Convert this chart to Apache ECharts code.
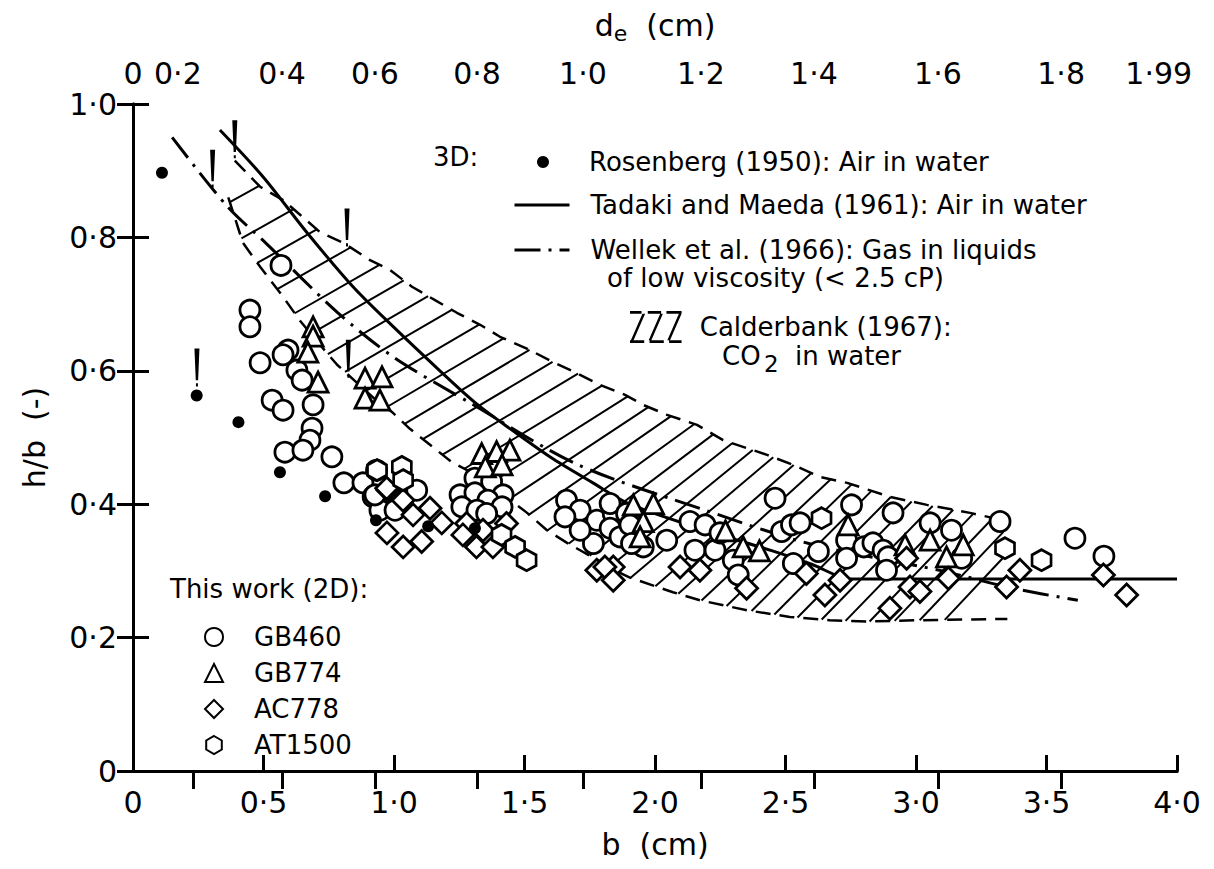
<!DOCTYPE html>
<html><head><meta charset="utf-8">
<script src="https://cdn.jsdelivr.net/npm/echarts@6/dist/echarts.min.js"></script>
<style>html,body{margin:0;padding:0;background:#fff}#c{width:1214px;height:869px}</style>
</head><body><div id="c"></div>
<script>
// ---------------- data (b in cm, h/b dimensionless) ----------------
const bTicks = [0, 0.5, 1, 1.5, 2, 2.5, 3, 3.5, 4];
const bTickLabels = ['0', '0·5', '1·0', '1·5', '2·0', '2·5', '3·0', '3·5', '4·0'];
const hbTickLabels = ['0', '0·2', '0·4', '0·6', '0·8', '1·0'];
const deTickB = [0.230, 0.571, 0.927, 1.318, 1.724, 2.176, 2.609, 3.084, 3.556];
const deLabelB = [0, 0.172, 0.571, 0.927, 1.318, 1.724, 2.176, 2.609, 3.084, 3.556, 3.93];
const deLabels = ['0', '0·2', '0·4', '0·6', '0·8', '1·0', '1·2', '1·4', '1·6', '1·8', '1·99'];

const rosenberg = [[0.111,0.897],[0.244,0.563],[0.404,0.523],[0.563,0.448],[0.736,0.412],[0.931,0.376],[1.131,0.367],[1.31,0.364]];

const gb460 = [[0.567,0.758],[0.448,0.691],[0.448,0.666],[0.594,0.631],[0.575,0.624],[0.487,0.612],[0.628,0.601],[0.648,0.586],
 [0.533,0.556],[0.575,0.541],[0.69,0.549],[0.686,0.514],[0.678,0.496],[0.582,0.478],[0.651,0.481],[0.762,0.471],[0.808,0.432],
 [0.881,0.432],[0.92,0.411],[0.946,0.391],[1.004,0.391],[0.933,0.451],[1.087,0.421],[0.927,0.414],
 [1.31,0.439],[1.374,0.434],[1.253,0.414],[1.31,0.417],[1.418,0.414],[1.36,0.406],[1.26,0.396],[1.318,0.391],[1.414,0.396],[1.355,0.386],
 [1.661,0.406],[1.713,0.391],[1.655,0.381],[1.777,0.376],[1.84,0.386],[1.828,0.364],[1.764,0.341],[1.713,0.361],[1.866,0.351],
 [1.828,0.401],[1.891,0.386],[1.904,0.369],[1.955,0.336],[1.91,0.341],
 [2.045,0.346],[2.134,0.374],[2.192,0.369],[2.153,0.331],[2.23,0.331],[2.249,0.357],[2.3,0.316],[2.319,0.294],[2.46,0.409],
 [2.485,0.359],[2.523,0.369],[2.556,0.372],[2.53,0.311],[2.626,0.329],[2.734,0.346],[2.734,0.319],[2.753,0.399],[2.80,0.336],
 [2.835,0.342],[2.874,0.331],[2.893,0.321],[2.887,0.301],[2.912,0.387],
 [3.054,0.372],[3.136,0.361],[3.322,0.374],[3.175,0.319],[3.609,0.349],[3.72,0.322]];

const gb774 = [[0.69,0.666],[0.69,0.652],[0.67,0.628],[0.709,0.583],[0.889,0.589],[0.954,0.591],[0.889,0.559],[0.946,0.556],
 [1.336,0.476],[1.393,0.479],[1.444,0.481],[1.35,0.456],[1.414,0.459],[1.917,0.399],[1.955,0.374],[1.943,0.351],[1.994,0.401],
 [2.27,0.36],[2.338,0.336],[2.40,0.33],[2.74,0.369],[3.054,0.346],[2.958,0.339],[3.181,0.339],[3.117,0.321]];

const ac778 = [[0.977,0.421],[0.973,0.357],[0.972,0.424],[1.035,0.406],[1.138,0.394],[1.073,0.384],[1.183,0.372],[1.035,0.336],
 [1.106,0.344],[1.278,0.371],[1.341,0.361],[1.264,0.354],[1.431,0.371],[1.316,0.336],[1.379,0.336],[1.777,0.301],[1.84,0.306],
 [1.808,0.306],[1.84,0.286],[2.096,0.306],[2.172,0.301],[2.351,0.274],[2.58,0.296],[2.651,0.264],[2.709,0.286],[2.9,0.244],
 [3.718,0.294],[3.807,0.264],[3.398,0.301],[3.347,0.276],[2.977,0.276],[3.015,0.269],[3.124,0.289],[2.964,0.319]];

const at1500 = [[0.935,0.451],[1.03,0.456],[1.035,0.436],[1.412,0.354],[1.464,0.336],[1.508,0.316],[2.638,0.379],
 [3.341,0.334],[3.481,0.316]];

const tadaki = [[0.333,0.961],[0.498,0.891],[0.667,0.807],[0.843,0.726],[1.0,0.665],[1.176,0.6],[1.318,0.55],[1.456,0.51],
 [1.609,0.468],[1.762,0.432],[1.904,0.40],[2.2,0.36],[2.45,0.33],[2.6,0.31],[2.75,0.288],[4.0,0.288]];

const wellek = [[0.15,0.95],[0.36,0.847],[0.513,0.79],[0.785,0.687],[1.0,0.62],[1.3,0.55],[1.7,0.46],[2.2,0.39],
 [2.6,0.34],[3.1,0.30],[3.37,0.274],[3.62,0.256]];

const calderbankUpper = [[0.39,0.915],[0.487,0.876],[0.575,0.856],[0.64,0.834],[0.716,0.808],[0.805,0.792],[0.908,0.766],
 [0.985,0.751],[1.069,0.726],[1.157,0.706],[1.241,0.687],[1.33,0.669],[1.406,0.651],[1.521,0.631],[1.609,0.613],[1.693,0.598],
 [1.789,0.579],[1.885,0.564],[1.954,0.549],[2.046,0.534],[2.161,0.519],[2.261,0.496],[2.429,0.474],[2.529,0.459],[2.632,0.441],
 [2.736,0.432],[2.9,0.411],[3.042,0.399],[3.207,0.387],[3.333,0.376]];

const calderbankLower = [[0.365,0.86],[0.421,0.792],[0.487,0.756],[0.575,0.711],[0.64,0.675],[0.716,0.639],[0.782,0.609],
 [0.85,0.585],[0.92,0.56],[0.996,0.537],[1.061,0.513],[1.138,0.489],[1.222,0.463],[1.28,0.451],[1.40,0.42],[1.51,0.387],
 [1.586,0.361],[1.663,0.342],[1.713,0.331],[1.866,0.297],[1.904,0.29],[2.069,0.268],[2.172,0.256],[2.352,0.241],[2.517,0.231],
 [2.67,0.226],[2.81,0.224],[3.0,0.226],[3.35,0.228]];

const pinMarks = [[0.39,0.947],[0.305,0.903],[0.82,0.815],[0.245,0.605],[0.825,0.618]];

// ---------------- styling ----------------
const FONT = 'DejaVu Sans';
const hatchAngle = [[0.3,29],[1.5,31],[2.0,38],[2.6,45],[3.4,47]]; // degrees, drawing style only

function interp(arr, x) {
  if (x <= arr[0][0]) return arr[0][1];
  for (let i = 1; i < arr.length; i++) {
    if (x <= arr[i][0]) {
      const a = arr[i-1], b = arr[i];
      return a[1] + (b[1]-a[1]) * (x-a[0]) / (b[0]-a[0]);
    }
  }
  return arr[arr.length-1][1];
}

function renderBand(params, api) {
  const U = calderbankUpper.map(p => api.coord(p));
  const L = calderbankLower.map(p => api.coord(p));
  const poly = U.concat(L.slice().reverse());
  const n = poly.length;
  const kids = [];
  const b0 = Math.max(calderbankUpper[0][0], calderbankLower[0][0]) + 0.015;
  const b1 = Math.min(calderbankUpper[calderbankUpper.length-1][0], calderbankLower[calderbankLower.length-1][0]) - 0.01;
  for (let b = b0; b <= b1; b += 0.085) {
    const mid = (interp(calderbankUpper, b) + interp(calderbankLower, b)) / 2;
    const A = api.coord([b, mid]);
    const th = interp(hatchAngle, b) * Math.PI / 180;
    const dx = Math.cos(th), dy = -Math.sin(th);
    let tp = Infinity, tn = -Infinity;
    for (let i = 0; i < n; i++) {
      const P = poly[i], Q = poly[(i+1) % n];
      const ex = Q[0]-P[0], ey = Q[1]-P[1];
      const den = dx*ey - dy*ex;
      if (Math.abs(den) < 1e-9) continue;
      const wx = P[0]-A[0], wy = P[1]-A[1];
      const t = (wx*ey - wy*ex) / den;
      const s = (wx*dy - wy*dx) / den;
      if (s < 0 || s > 1) continue;
      if (t > 0 && t < tp) tp = t;
      if (t < 0 && t > tn) tn = t;
    }
    if (isFinite(tp) && isFinite(tn)) {
      kids.push({type: 'line', shape: {x1: A[0]+tn*dx, y1: A[1]+tn*dy, x2: A[0]+tp*dx, y2: A[1]+tp*dy},
        style: {stroke: '#000', lineWidth: 2}});
    }
  }
  return {type: 'group', children: kids};
}

const hexPath = 'path://M0,-1 L0.866,-0.5 L0.866,0.5 L0,1 L-0.866,0.5 L-0.866,-0.5 Z';
const hatchIcon = 'path://M0,0H13V3H0Z M20,0H35V3H20Z M41,0H58V3H41Z M0,33H16V36H0Z M22,33H38V36H22Z M44,33H58V36H44Z' +
  'M14,3L17,3L4,33L1,33Z M34,3L37,3L24,33L21,33Z M55,3L58,3L45,33L42,33Z';
const pinPath = 'path://M0,0L3,0L2.2,30L0.8,30Z M0.9,33H2.1V36H0.9Z';

const markerStyle = {color: '#fff', borderColor: '#000', borderWidth: 2.8, opacity: 1};
const legendText = {fontFamily: FONT, fontSize: 26, color: '#000'};
const TXT = '26px "DejaVu Sans"';

const chart = echarts.init(document.getElementById('c'), null, {renderer: 'svg'});
chart.setOption({
  animation: false,
  backgroundColor: '#fff',
  textStyle: {fontFamily: FONT, color: '#000'},
  grid: {left: 133, right: 37, top: 104, bottom: 98, containLabel: false},
  xAxis: [{
    type: 'value', position: 'bottom', min: 0, max: 4, interval: 0.5,
    name: 'b  (cm)', nameLocation: 'middle', nameGap: 58,
    nameTextStyle: {fontSize: 30, fontFamily: FONT, color: '#000'},
    axisLine: {lineStyle: {color: '#000', width: 3}},
    axisTick: {inside: true, length: 16, lineStyle: {color: '#000', width: 3}},
    axisLabel: {fontSize: 30, color: '#000', fontFamily: FONT, margin: 16,
      formatter: v => bTickLabels[bTicks.indexOf(Math.round(v*2)/2)]},
    splitLine: {show: false}
  }, {
    type: 'value', position: 'top', min: 0, max: 4,
    name: '{v|d}{s|e}{v|  (cm)}', nameLocation: 'middle', nameGap: 60,
    nameTextStyle: {rich: {v: {fontSize: 30, fontFamily: FONT, color: '#000'},
                           s: {fontSize: 22, fontFamily: FONT, color: '#000', padding: [16, 0, 0, 0]}}},
    axisLine: {lineStyle: {color: '#000', width: 3}},
    axisTick: {inside: true, length: 18, customValues: deTickB, lineStyle: {color: '#000', width: 3}},
    axisLabel: {fontSize: 30, color: '#000', fontFamily: FONT, margin: 16, customValues: deLabelB,
      formatter: v => { let k = 0; deLabelB.forEach((x, i) => { if (Math.abs(x - v) < Math.abs(deLabelB[k] - v)) k = i; }); return deLabels[k]; }},
    splitLine: {show: false}
  }],
  yAxis: [{
    type: 'value', position: 'left', min: 0, max: 1, interval: 0.2,
    name: 'h/b  (-)', nameLocation: 'middle', nameGap: 84,
    nameTextStyle: {fontSize: 30, fontFamily: FONT, color: '#000'},
    axisLine: {lineStyle: {color: '#000', width: 3}},
    axisTick: {inside: true, length: 16, lineStyle: {color: '#000', width: 3}},
    axisLabel: {fontSize: 30, color: '#000', fontFamily: FONT, margin: 16,
      formatter: v => hbTickLabels[Math.round(v / 0.2)]},
    splitLine: {show: false}
  }, {
    type: 'value', position: 'right', min: 0, max: 1, interval: 0.2,
    axisLine: {lineStyle: {color: '#000', width: 3}},
    axisTick: {inside: true, length: 16, lineStyle: {color: '#000', width: 3}},
    axisLabel: {show: false}, splitLine: {show: false}
  }],
  legend: [
    {data: ['Rosenberg (1950): Air in water'], left: 532, top: 144, itemWidth: 12, itemHeight: 12, selectedMode: false,
     textStyle: Object.assign({lineHeight: 26, padding: [0, 0, 0, 35]}, legendText)},
    {data: ['Tadaki and Maeda (1961): Air in water'], left: 508, top: 187, itemWidth: 55, itemHeight: 14, selectedMode: false,
     itemStyle: {opacity: 0}, lineStyle: {width: 3, color: '#000', opacity: 1},
     textStyle: Object.assign({lineHeight: 26, padding: [0, 0, 0, 16]}, legendText)},
    {data: ['Wellek et al. (1966): Gas in liquids'], left: 508, top: 232, itemWidth: 55, itemHeight: 14, selectedMode: false,
     itemStyle: {opacity: 0}, lineStyle: {width: 3, color: '#000', opacity: 1},
     textStyle: Object.assign({lineHeight: 26, padding: [0, 0, 0, 16]}, legendText)},
    {data: [{name: 'Calderbank (1967):', icon: hatchIcon}], left: 625, top: 306, itemWidth: 58, itemHeight: 32, selectedMode: false,
     textStyle: Object.assign({lineHeight: 26, padding: [0, 0, 0, 10]}, legendText)},
    {data: ['GB460', 'GB774', 'AC778', 'AT1500'], orient: 'vertical', left: 199, top: 619, itemWidth: 18, itemHeight: 18,
     itemGap: 10, selectedMode: false,
     textStyle: Object.assign({lineHeight: 22, padding: [0, 0, 0, 26]}, legendText)}
  ],
  graphic: [
    {type: 'text', left: 433, top: 144, style: {text: '3D:', font: TXT, fill: '#000'}},
    {type: 'text', left: 607, top: 265, style: {text: 'of low viscosity (< 2.5 cP)', font: TXT, fill: '#000'}},
    {type: 'text', left: 722, top: 343, style: {text: 'CO', font: TXT, fill: '#000'}},
    {type: 'text', left: 764, top: 352, style: {text: '2', font: '23px "DejaVu Sans"', fill: '#000'}},
    {type: 'text', left: 795, top: 343, style: {text: 'in water', font: TXT, fill: '#000'}},
    {type: 'text', left: 170, top: 576, style: {text: 'This work (2D):', font: TXT, fill: '#000'}}
  ],
  series: [
    {name: 'Calderbank (1967):', type: 'custom', renderItem: renderBand, data: [[0, 0]], clip: false, silent: true, z: 1,
     itemStyle: {color: '#000'}},
    {name: 'calderbankUpper', type: 'line', data: calderbankUpper, showSymbol: false, symbol: 'none', z: 2, silent: true,
     lineStyle: {color: '#000', width: 2.5, type: [15, 9]}},
    {name: 'calderbankLower', type: 'line', data: calderbankLower, showSymbol: false, symbol: 'none', z: 2, silent: true,
     lineStyle: {color: '#000', width: 2.5, type: [15, 9]}},
    {name: 'Tadaki and Maeda (1961): Air in water', type: 'line', data: tadaki, symbol: 'none', smooth: 0.3, z: 3,
     itemStyle: {color: '#000'}, lineStyle: {color: '#000', width: 3}},
    {name: 'Wellek et al. (1966): Gas in liquids', type: 'line', data: wellek, symbol: 'none', smooth: 0.3, z: 3,
     itemStyle: {color: '#000'}, lineStyle: {color: '#000', width: 3, type: [26, 8, 3, 8]}},
    {name: 'marks', type: 'scatter', data: pinMarks, symbol: pinPath, symbolSize: [5, 38], z: 3, silent: true,
     itemStyle: {color: '#000', opacity: 1}},
    {name: 'GB460', type: 'scatter', data: gb460, symbol: 'circle', symbolSize: 20, z: 5, itemStyle: markerStyle},
    {name: 'GB774', type: 'scatter', data: gb774, symbol: 'triangle', symbolSize: 20, z: 5, itemStyle: markerStyle},
    {name: 'AC778', type: 'scatter', data: ac778, symbol: 'diamond', symbolSize: 22, z: 5, itemStyle: markerStyle},
    {name: 'AT1500', type: 'scatter', data: at1500, symbol: hexPath, symbolSize: [19, 21], z: 5, itemStyle: markerStyle},
    {name: 'Rosenberg (1950): Air in water', type: 'scatter', data: rosenberg, symbol: 'circle', symbolSize: 12, z: 6,
     itemStyle: {color: '#000', opacity: 1}}
  ]
});
</script></body></html>
